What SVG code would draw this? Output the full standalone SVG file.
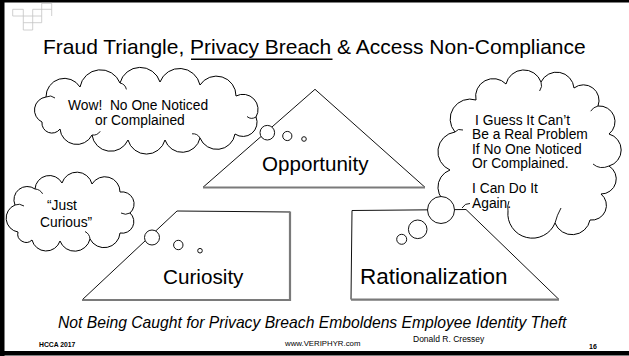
<svg xmlns="http://www.w3.org/2000/svg" width="629" height="356" viewBox="0 0 629 356">
<style>
text{font-family:"Liberation Sans",Arial,Helvetica,sans-serif;fill:#000}
.cloud{fill:#fff;stroke:#000;stroke-width:1}
.inner{fill:none;stroke:#000;stroke-width:0.9}
.shape{fill:none;stroke:#111;stroke-width:1}
.shadow{fill:none;stroke:#7a7a7a;stroke-width:2.2}
.bub{fill:#fff;stroke:#111;stroke-width:1}
.ct{font-size:13.8px}
.grid{fill:none;stroke:#c4c4c4;stroke-width:0.8}
</style>
<rect width="629" height="356" fill="#fff"/>
<g id="frame" fill="#000">
<rect x="0" y="0" width="629" height="2.5"/>
<rect x="0" y="0" width="4.5" height="356"/>
<rect x="0" y="351" width="629" height="4.5"/>
</g>
<g id="logo-grid">
<path class="grid" d="M41.7,3.3H51.7M12.7,9.3H23.3M32.7,9.3H51.7M12.7,16H41.7M23.3,22.7H41.7M23.3,30H32.7M12.7,9.3V16M23.3,9.3V30M32.7,9.3V30M41.7,3.3V22.7M51.7,3.3V16"/>
</g>
<g id="title">
<text x="43" y="54" font-size="21">Fraud Triangle, Privacy Breach &amp; Access Non-Compliance</text>
<line x1="191" y1="59.3" x2="332.5" y2="59.3" stroke="#000" stroke-width="1.4"/>
</g>
<g id="cloud-wow">
<path class="cloud" d="M42,122 A13.2,13.2 0 0 1 46,97 A18.4,18.4 0 0 1 80,87 A20.9,20.9 0 0 1 120,83 A20.8,20.8 0 0 1 160,82 A20.9,20.9 0 0 1 200,85 A19.6,19.6 0 0 1 236,96 A15.1,15.1 0 0 1 256,117 A14.1,14.1 0 0 1 235,134 A18.3,18.3 0 0 1 200,138 A18.2,18.2 0 0 1 165,140 A19.2,19.2 0 0 1 128,140 A18.9,18.9 0 0 1 92,135 A16.9,16.9 0 0 1 60,129 A10,10 0 0 1 42,122 Z"/>
<path class="inner" d="M46,97 Q51,94.5 55,98 M256,117 Q251,120 247,116.5 M200,138 Q197.4,133.3 192,133.8 M120,83 Q125.3,84.1 126.4,89.4 M92,135 Q97.3,135.7 100.2,131.3"/>
<text class="ct" x="68" y="110" xml:space="preserve">Wow!  No One Noticed</text>
<text class="ct" x="95" y="125">or Complained</text>
</g>
<g id="cloud-curious">
<path class="cloud" d="M18,232 A14.1,14.1 0 0 1 15,205 A13.3,13.3 0 0 1 35,189 A14.4,14.4 0 0 1 62,183 A15.6,15.6 0 0 1 92,184 A15.1,15.1 0 0 1 120,192 A12.1,12.1 0 0 1 130,213 A11.6,11.6 0 0 1 120,233 A15.9,15.9 0 0 1 90,239 A15.7,15.7 0 0 1 60,241 A14.6,14.6 0 0 1 32,240 A8.4,8.4 0 0 1 18,232 Z"/>
<path class="inner" d="M35,189 Q40.1,189.3 42.6,193.8 M130,213 Q125.5,215.5 121,213 M90,239 Q89.6,233.9 85,231.5 M15,205 Q19.5,203 24,206"/>
<text class="ct" x="47" y="210">“Just</text>
<text class="ct" x="40" y="227">Curious”</text>
</g>
<g id="cloud-rationale">
<path class="cloud" d="M452,205 A18.3,18.3 0 0 1 450,170 A19.9,19.9 0 0 1 455,132 A19.9,19.9 0 0 1 476,100 A17.7,17.7 0 0 1 506,84 A18.3,18.3 0 0 1 541,82 A17.4,17.4 0 0 1 574,88 A15.6,15.6 0 0 1 598,106 A15.7,15.7 0 0 1 609,134 A16.6,16.6 0 0 1 609,166 A15.1,15.1 0 0 1 601,194 A14.7,14.7 0 0 1 590,220 A18.3,18.3 0 0 1 555,223 A24.5,24.5 0 0 1 508,211"/>
<path class="inner" d="M462,208 Q465,203 470,203.5 M455,132 Q458,128 463,130 M541,82 Q542.8,86.5 539.6,91 M598,106 Q593,107.2 590.7,111.2 M609,166 Q600,170 593,164 M555,223 Q557,215 561,208 M508,211 Q507,206 509,201"/>
<text class="ct" x="475" y="124.5">I Guess It Can’t</text>
<text class="ct" x="472" y="139">Be a Real Problem</text>
<text class="ct" x="472" y="153.5">If No One Noticed</text>
<text class="ct" x="472" y="168">Or Complained.</text>
<text class="ct" x="472" y="193">I Can Do It</text>
<text class="ct" x="472" y="208">Again.</text>
</g>
<g id="node-opportunity">
<path class="shape" d="M203,187.3 L315,89.3 L425,187.3"/>
<line class="shadow" x1="203" y1="187.5" x2="425" y2="187.5"/>
<text x="262" y="170.5" font-size="20.6">Opportunity</text>
</g>
<g id="node-curiosity">
<path class="shape" d="M290,212 L177,211 L82,300"/>
<path class="shadow" d="M290,211.5 V300 H82"/>
<text x="163" y="284" font-size="20.7">Curiosity</text>
</g>
<g id="node-rationalization">
<path class="shape" d="M351,299.5 L352,210.5 L466,209.5 L559,299.5"/>
<line class="shadow" x1="351" y1="299.7" x2="559" y2="299.7"/>
<text x="360" y="284" font-size="22.5">Rationalization</text>
</g>
<g id="connectors">
<circle class="bub" cx="267.3" cy="132.7" r="7.3"/>
<circle class="bub" cx="287.3" cy="136" r="4.6"/>
<circle class="bub" cx="304" cy="139" r="2.3"/>
<circle class="bub" cx="152" cy="237.5" r="7.5"/>
<circle class="bub" cx="178.3" cy="245" r="4.7"/>
<circle class="bub" cx="200" cy="250.7" r="2.3"/>
<circle class="bub" cx="441" cy="210" r="13.5"/>
<circle class="bub" cx="417.7" cy="229.3" r="9.3"/>
<circle class="bub" cx="401.7" cy="239.3" r="5"/>
</g>
<g id="footer">
<text x="58" y="328" font-size="15.7" font-style="italic">Not Being Caught for Privacy Breach Emboldens Employee Identity Theft</text>
<text x="39" y="346.5" font-size="6.8" font-weight="bold">HCCA 2017</text>
<text x="285" y="346" font-size="7.8">www.VERIPHYR.com</text>
<text x="413" y="342" font-size="8.5">Donald R. Cressey</text>
<text x="589" y="349" font-size="7" font-weight="bold">16</text>
</g>
</svg>
